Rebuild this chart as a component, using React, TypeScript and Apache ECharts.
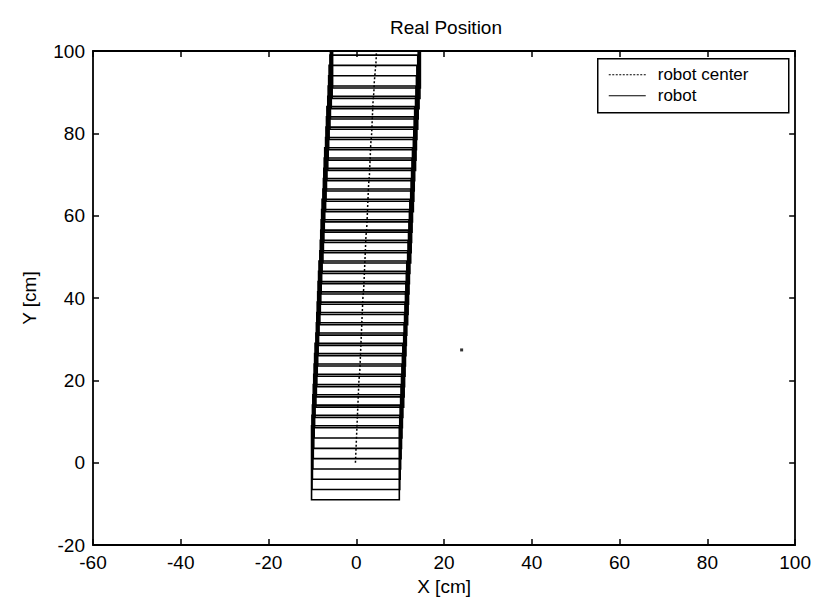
import { useEffect, useRef } from 'react';
import * as echarts from 'echarts';

// Robot poses (centre of robot) along the path, in cm
const poseY = [0, 2.5, 5, 7.5, 10, 12.5, 15, 17.5, 20, 22.5, 25, 27.5, 30, 32.5, 35, 37.5, 40, 42.5, 45, 47.5, 50, 52.5, 55, 57.5, 60, 62.5, 65, 67.5, 70, 72.5, 75, 77.5, 80, 82.5, 85, 87.5, 90, 92.5, 95, 97.5, 100];
const poseX = [-0.2, -0.1, 0, 0.1, 0.2, 0.3, 0.4, 0.5, 0.6, 0.8, 0.9, 1.0, 1.1, 1.2, 1.3, 1.4, 1.5, 1.7, 1.8, 1.9, 2.0, 2.1, 2.2, 2.4, 2.5, 2.6, 2.7, 2.8, 3.0, 3.1, 3.2, 3.3, 3.5, 3.6, 3.7, 3.8, 4.0, 4.1, 4.3, 4.5, 4.6];
// Robot footprint (cm)
const ROBOT_HALF_WIDTH = 10;
const ROBOT_HALF_LENGTH = 9;
// stray point
const strayPoint = [[24, 27.4]];

const legendNames = ['robot center', 'robot'];
const FONT = '"Liberation Sans", Arial, Helvetica, sans-serif';

export default function App() {
  const ref = useRef<HTMLDivElement>(null);
  useEffect(() => {
    if (!ref.current) return;
    const chart = echarts.init(ref.current, null, { renderer: 'svg' });
    const poses = poseX.map((x, i) => [x, poseY[i]]);
    const axisLine = { show: true, onZero: false, lineStyle: { color: '#000', width: 1.8 } };
    const tick = { show: true, inside: true, length: 6, lineStyle: { color: '#000', width: 1.5 } };
    const label = { color: '#000', fontSize: 19, fontFamily: FONT };
    chart.setOption({
      animation: false,
      backgroundColor: '#fff',
      title: {
        text: 'Real Position',
        left: 446,
        textAlign: 'center',
        top: 18,
        padding: 0,
        textStyle: { color: '#000', fontSize: 19, fontWeight: 'normal', fontFamily: FONT },
      },
      grid: { left: 93, right: 15, top: 51, bottom: 54 },
      xAxis: [
        {
          type: 'value', min: -60, max: 100, interval: 20,
          name: 'X [cm]', nameLocation: 'middle', nameGap: 22,
          nameTextStyle: { color: '#000', fontSize: 19, fontFamily: FONT },
          axisLine, axisTick: tick, axisLabel: { ...label, margin: 8 }, splitLine: { show: false },
        },
        {
          type: 'value', min: -60, max: 100, interval: 20, position: 'top',
          axisLine, axisTick: tick, axisLabel: { show: false }, splitLine: { show: false },
        },
      ],
      yAxis: [
        {
          type: 'value', min: -20, max: 100, interval: 20,
          name: 'Y [cm]', nameLocation: 'middle', nameGap: 54,
          nameTextStyle: { color: '#000', fontSize: 19, fontFamily: FONT },
          axisLine, axisTick: tick, axisLabel: { ...label, margin: 8 }, splitLine: { show: false },
        },
        {
          type: 'value', min: -20, max: 100, interval: 20, position: 'right',
          axisLine, axisTick: tick, axisLabel: { show: false }, splitLine: { show: false },
        },
      ],
      series: [
        {
          name: 'robot',
          type: 'custom',
          clip: true,
          data: poses,
          renderItem: (params: any, api: any) => {
            const cx = api.value(0);
            const cy = api.value(1);
            const p1 = api.coord([cx - ROBOT_HALF_WIDTH, cy - ROBOT_HALF_LENGTH]);
            const p2 = api.coord([cx + ROBOT_HALF_WIDTH, cy + ROBOT_HALF_LENGTH]);
            return {
              type: 'rect',
              shape: { x: p1[0], y: p2[1], width: p2[0] - p1[0], height: p1[1] - p2[1] },
              style: { fill: 'none', stroke: '#000', lineWidth: 1.6 },
            };
          },
          z: 2,
        },
        {
          name: 'robot center',
          type: 'line',
          data: poses,
          symbol: 'none',
          clip: true,
          lineStyle: { color: '#000', width: 1.5, type: [2, 2] },
          z: 3,
        },
        {
          name: 'stray',
          type: 'scatter',
          data: strayPoint,
          symbol: 'rect',
          symbolSize: 3,
          itemStyle: { color: '#000' },
        },
      ],
      graphic: [
        {
          type: 'group',
          left: 597,
          top: 58,
          children: [
            { type: 'rect', shape: { x: 0, y: 0, width: 191, height: 54 }, style: { fill: '#fff', stroke: '#000', lineWidth: 1.5 } },
            { type: 'line', shape: { x1: 11, y1: 16, x2: 48, y2: 16 }, style: { stroke: '#000', lineWidth: 1.2, lineDash: [2, 1.5] } },
            { type: 'line', shape: { x1: 11, y1: 37, x2: 48, y2: 37 }, style: { stroke: '#000', lineWidth: 1 } },
            { type: 'text', x: 60, y: 16, style: { text: legendNames[0], fill: '#000', fontSize: 17, fontFamily: FONT, verticalAlign: 'middle' } },
            { type: 'text', x: 60, y: 37, style: { text: legendNames[1], fill: '#000', fontSize: 17, fontFamily: FONT, verticalAlign: 'middle' } },
          ],
        },
      ],
    });
    return () => chart.dispose();
  }, []);
  return <div ref={ref} style={{ position: 'absolute', left: 0, top: 0, width: 814, height: 601 }} />;
}
